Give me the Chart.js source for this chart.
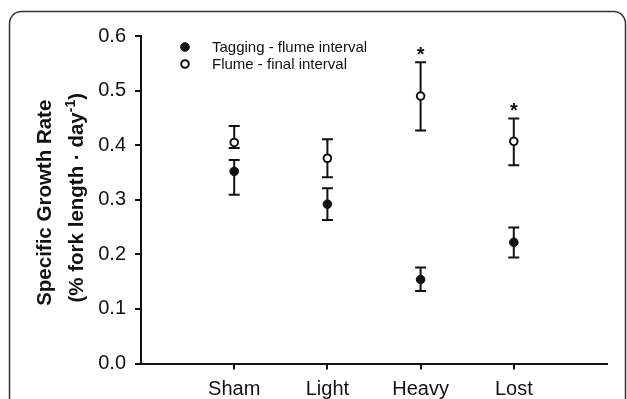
<!DOCTYPE html>
<html>
<head>
<meta charset="utf-8">
<script src="https://cdn.jsdelivr.net/npm/chart.js@4"></script>
<style>
	html, body { margin: 0; padding: 0; background: #fff; }
	#wrap { position: relative; width: 627px; height: 399px; }
</style>
</head>
<body>
<div id="wrap"><canvas id="growthChart"></canvas></div>
<script>
const categories = ['Sham', 'Light', 'Heavy', 'Lost'];

// Tagging - flume interval (filled)
const taggingMean = [0.352, 0.292, 0.154, 0.222];
const taggingLow = [0.309, 0.263, 0.133, 0.194];
const taggingHigh = [0.373, 0.321, 0.176, 0.249];

// Flume - final interval (open)
const flumeMean = [0.405, 0.376, 0.490, 0.407];
const flumeLow = [0.395, 0.341, 0.427, 0.363];
const flumeHigh = [0.435, 0.411, 0.552, 0.449];

// asterisk above the open series
const significant = [false, false, true, true];

const yTicks = [0, 0.1, 0.2, 0.3, 0.4, 0.5, 0.6];

const FONT = '"Liberation Sans", Arial, sans-serif';
const INK = '#111';

function toPoints(values) {
	return values.map((v, i) => ({ x: i + 1, y: v }));
}

// rounded frame around the whole figure
const framePlugin = {
	id: 'frame',
	beforeDraw(chart) {
		const ctx = chart.ctx;
		ctx.save();
		ctx.strokeStyle = '#333';
		ctx.lineWidth = 1.5;
		ctx.beginPath();
		ctx.roundRect(9.5, 11.5, 616, 480, 12);
		ctx.stroke();
		ctx.restore();
	},
};

// error bars, drawn under the markers
const errorBarPlugin = {
	id: 'errorBars',
	beforeDatasetsDraw(chart) {
		const ctx = chart.ctx;
		const xs = chart.scales.x;
		const ys = chart.scales.y;
		ctx.save();
		ctx.strokeStyle = INK;
		ctx.lineWidth = 2;
		chart.data.datasets.forEach((ds) => {
			ds.data.forEach((pt, i) => {
				const px = xs.getPixelForValue(pt.x);
				const lo = ys.getPixelForValue(ds.errLow[i]);
				const hi = ys.getPixelForValue(ds.errHigh[i]);
				ctx.beginPath();
				ctx.moveTo(px, lo);
				ctx.lineTo(px, hi);
				ctx.moveTo(px - 5.5, lo);
				ctx.lineTo(px + 5.5, lo);
				ctx.moveTo(px - 5.5, hi);
				ctx.lineTo(px + 5.5, hi);
				ctx.stroke();
			});
		});
		ctx.restore();
	},
	afterDatasetsDraw(chart) {
		const ctx = chart.ctx;
		const xs = chart.scales.x;
		const ys = chart.scales.y;
		ctx.save();
		ctx.fillStyle = INK;
		ctx.font = 'bold 20px ' + FONT;
		ctx.textAlign = 'center';
		ctx.textBaseline = 'middle';
		significant.forEach((s, i) => {
			if (!s) return;
			ctx.fillText('*', xs.getPixelForValue(i + 1), ys.getPixelForValue(flumeHigh[i]) - 7);
		});
		ctx.restore();
	},
};

// legend inside the plot, top left
const legendPlugin = {
	id: 'innerLegend',
	afterDraw(chart) {
		const ctx = chart.ctx;
		ctx.save();
		ctx.font = '15px ' + FONT;
		ctx.textBaseline = 'middle';
		chart.data.datasets.forEach((ds, i) => {
			const y = 47 + i * 17;
			ctx.beginPath();
			ctx.arc(185, y, ds.pointRadius, 0, Math.PI * 2);
			ctx.fillStyle = ds.backgroundColor;
			ctx.fill();
			ctx.lineWidth = ds.borderWidth;
			ctx.strokeStyle = ds.borderColor;
			ctx.stroke();
			ctx.fillStyle = INK;
			ctx.fillText(ds.label, 212, y + 1);
		});
		ctx.restore();
	},
};

// two-line y title with superscript
const yTitlePlugin = {
	id: 'yTitle',
	afterDraw(chart) {
		const ctx = chart.ctx;
		const area = chart.chartArea;
		const cy = (area.top + area.bottom) / 2;
		ctx.save();
		ctx.fillStyle = INK;
		ctx.textBaseline = 'alphabetic';
		ctx.textAlign = 'left';

		const big = 'bold 20.5px ' + FONT;
		const small = 'bold 14px ' + FONT;

		ctx.save();
		ctx.translate(50.5, cy + 3);
		ctx.rotate(-Math.PI / 2);
		ctx.font = big;
		const line1 = 'Specific Growth Rate';
		ctx.fillText(line1, -ctx.measureText(line1).width / 2, 0);
		ctx.restore();

		const partA = '(% fork length \u00b7 day';
		const sup = '-1';
		const partB = ')';
		ctx.font = big;
		const wA = ctx.measureText(partA).width;
		const wB = ctx.measureText(partB).width;
		ctx.font = small;
		const wS = ctx.measureText(sup).width;
		const total = wA + wS + wB;

		ctx.translate(82.5, cy - 2);
		ctx.rotate(-Math.PI / 2);
		let x = -total / 2;
		ctx.font = big;
		ctx.fillText(partA, x, 0);
		x += wA;
		ctx.font = small;
		ctx.fillText(sup, x, -8);
		x += wS;
		ctx.font = big;
		ctx.fillText(partB, x, 0);
		ctx.restore();
	},
};

const ctx = document.getElementById('growthChart').getContext('2d');
const growthChart = new Chart(ctx, {
	type: 'scatter',
	data: {
		datasets: [
			{
				label: 'Tagging - flume interval',
				data: toPoints(taggingMean),
				errLow: taggingLow,
				errHigh: taggingHigh,
				pointRadius: 4.3,
				borderWidth: 1,
				backgroundColor: INK,
				borderColor: INK,
			},
			{
				label: 'Flume - final interval',
				data: toPoints(flumeMean),
				errLow: flumeLow,
				errHigh: flumeHigh,
				pointRadius: 3.8,
				borderWidth: 2,
				backgroundColor: '#fff',
				borderColor: INK,
			},
		],
	},
	options: {
		responsive: true,
		maintainAspectRatio: false,
		animation: false,
		layout: {
			padding: { left: 0, top: 36, right: 20, bottom: 0 },
		},
		plugins: {
			legend: { display: false },
			tooltip: { enabled: false },
		},
		scales: {
			x: {
				type: 'linear',
				min: 0,
				max: categories.length + 1,
				afterBuildTicks: (axis) => {
					axis.ticks = categories.map((c, i) => ({ value: i + 1 }));
				},
				afterFit: (axis) => {
					axis.height = 35.5;
				},
				ticks: {
					autoSkip: false,
					maxRotation: 0,
					padding: 8,
					color: INK,
					font: { size: 20, family: FONT },
					callback: (v) => categories[v - 1],
				},
				grid: {
					drawOnChartArea: false,
					drawTicks: true,
					tickLength: 6,
					color: INK,
					lineWidth: 2,
				},
				border: { color: INK, width: 2 },
			},
			y: {
				min: 0,
				max: 0.6,
				afterBuildTicks: (axis) => {
					axis.ticks = yTicks.map((v) => ({ value: v }));
				},
				afterFit: (axis) => {
					axis.width = 141;
				},
				ticks: {
					padding: 9,
					color: INK,
					font: { size: 20, family: FONT },
					callback: (v) => v.toFixed(1),
				},
				grid: {
					drawOnChartArea: false,
					drawTicks: true,
					tickLength: 6,
					color: INK,
					lineWidth: 2,
				},
				border: { color: INK, width: 2 },
			},
		},
	},
	plugins: [framePlugin, errorBarPlugin, legendPlugin, yTitlePlugin],
});
</script>
</body>
</html>
